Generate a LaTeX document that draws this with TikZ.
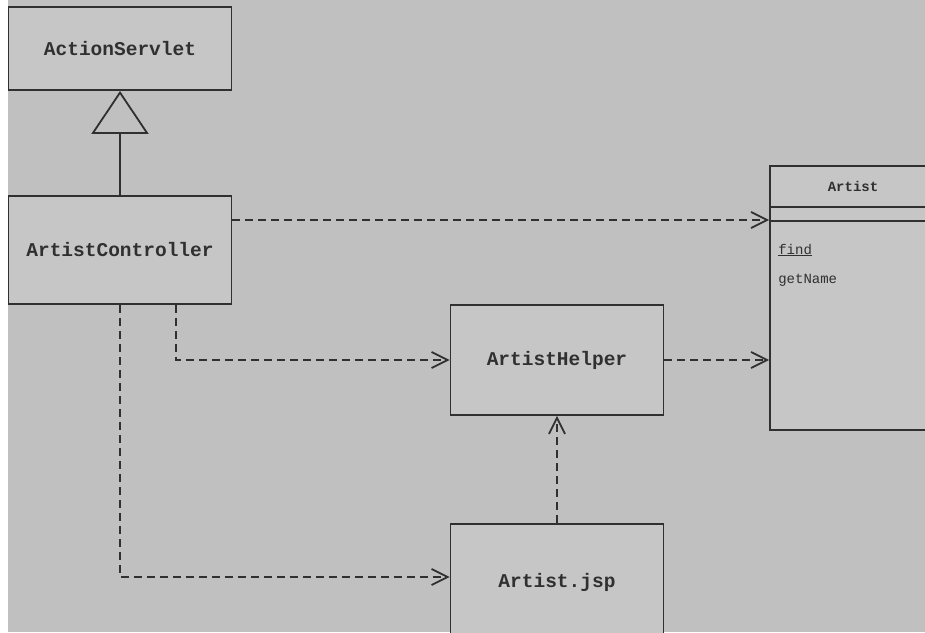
\documentclass[tikz,border=0pt]{standalone}
\usepackage{fontspec}
\setmonofont{Liberation Mono}
\usetikzlibrary{arrows.meta}
\definecolor{paper}{RGB}{192,192,192}
\definecolor{boxfill}{RGB}{198,198,198}
\definecolor{ink}{RGB}{48,48,48}
\begin{document}
\begin{tikzpicture}[x=1pt,y=-1pt,
  box/.style={draw=ink, line width=1.8pt, fill=boxfill, text=ink, inner sep=0pt,
    font=\ttfamily\bfseries\fontsize{19.5}{22}\selectfont},
  classbox/.style={draw=ink, line width=1.8pt, fill=boxfill, inner sep=0pt},
  member/.style={text=ink, inner sep=0pt, font=\ttfamily\fontsize{14}{16}\selectfont},
  dep/.style={draw=ink, line width=1.8pt, dash pattern=on 8pt off 5pt,
    -{Straight Barb[length=16pt,width=16pt,line width=1.8pt]}},
  inherit/.style={draw=ink, line width=1.8pt,
    -{Triangle[open,length=43pt,width=57pt,line width=1.8pt,fill=paper]}}]
\useasboundingbox (0,0) rectangle (925,632);
\fill[white] (0,0) rectangle (925,632);
\fill[paper] (8,0) rectangle (925,632);
\clip (0,0) rectangle (925,632);

% boxes
\node[box, minimum width=223pt, minimum height=83pt] (servlet) at (120,48.5) {ActionServlet};
\node[box, minimum width=223pt, minimum height=108pt] (ctrl) at (120,250) {ArtistController};
\node[box, minimum width=213pt, minimum height=110pt] (helper) at (557,360) {ArtistHelper};
\node[box, minimum width=213pt, minimum height=116pt] (jsp) at (557,582) {Artist.jsp};

% Artist class
\node[classbox, minimum width=166pt, minimum height=264pt] (artist) at (853,298) {};
\draw[ink, line width=1.8pt] ([yshift=-42pt]artist.north west) -- ([yshift=-42pt]artist.north east);
\draw[ink, line width=1.8pt] ([yshift=-56pt]artist.north west) -- ([yshift=-56pt]artist.north east);
\node[member, font=\ttfamily\bfseries\fontsize{14}{16}\selectfont] (artistname) at ([yshift=-21pt]artist.north) {Artist};
\node[member, anchor=west] (find) at ([xshift=9pt,yshift=-85pt]artist.north west) {\underline{find}};
\node[member, anchor=west] (getname) at ([xshift=9pt,yshift=-115pt]artist.north west) {getName};

% connectors
\draw[inherit] (ctrl.north) -- (servlet.south);
\coordinate (c1) at ([yshift=30pt]ctrl.east);
\draw[dep] (c1) -- (c1 -| artist.west);
\coordinate (c2) at ([xshift=56pt]ctrl.south);
\draw[dep] (c2) |- (helper.west);
\coordinate (c3) at ([yshift=5pt]jsp.west);
\draw[dep] (ctrl.south) |- (c3);
\draw[dep] (helper.east) -- (helper.east -| artist.west);
\draw[dep] (jsp.north) -- (helper.south);
\end{tikzpicture}
\end{document}
